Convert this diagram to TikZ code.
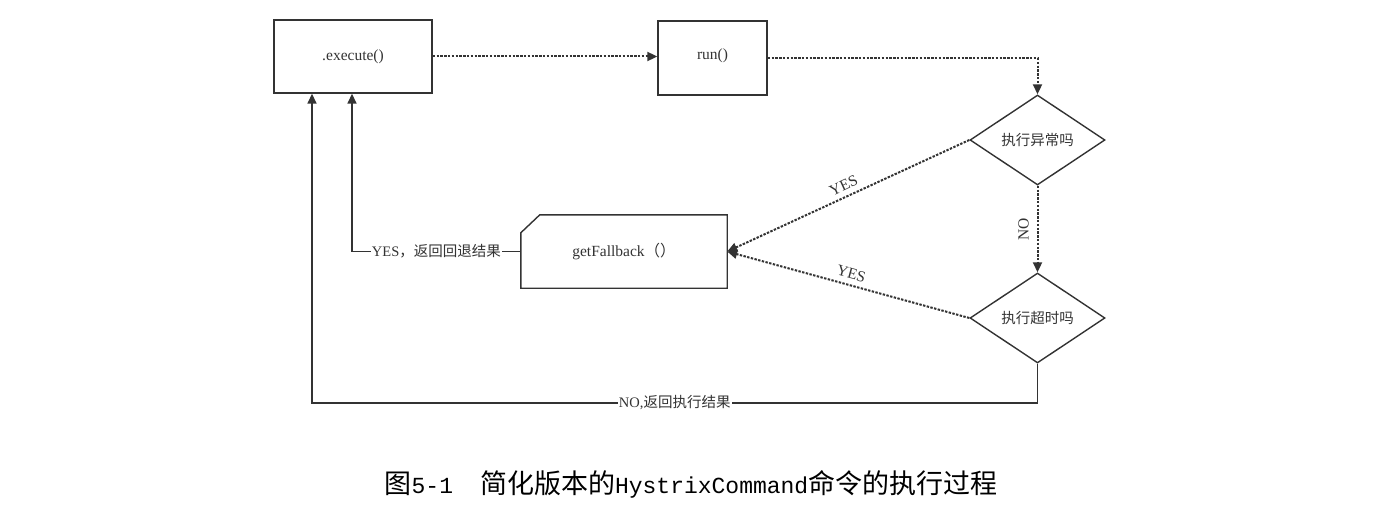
\documentclass[tikz,border=0pt]{standalone}
\usepackage{fontspec}
\setmainfont{Liberation Serif}
\newfontfamily\cjk{Noto Sans CJK SC}
\newfontfamily\monof{Liberation Mono}
\usetikzlibrary{shapes.geometric,arrows.meta}
\definecolor{ink}{HTML}{333333}
\begin{document}
\begin{tikzpicture}[x=1pt,y=-1pt,
  box/.style={draw=ink,line width=1.4pt,rectangle,inner sep=0pt,text=ink,font=\fontsize{15.5}{18}\selectfont},
  dia/.style={draw=ink,line width=1.4pt,diamond,aspect=1.5,inner sep=0pt,minimum width=135pt,minimum height=90pt,text=ink,font=\cjk\fontsize{14.5}{17}\selectfont},
  dotarrow/.style={draw=ink,line width=2pt,dash pattern=on 2.4pt off 1.4pt,-{Triangle[length=10pt,width=9pt]}},
  solidarrow/.style={draw=ink,line width=1.6pt,-{Triangle[length=10pt,width=9pt]}},
  lbl/.style={text=ink,font=\fontsize{15.5}{18}\selectfont,inner sep=5pt},
  clbl/.style={text=ink,fill=white,inner sep=1pt,font=\fontsize{14.5}{17}\selectfont}
]
\useasboundingbox (0,0) rectangle (1380,532);
\node[box,minimum width=158pt,minimum height=73pt] (exec) at (353,56.5) {.execute()};
\node[box,minimum width=109pt,minimum height=74pt] (run) at (712.5,58) {\raisebox{8pt}{run()}};
\node[dia] (d1) at (1037.5,140) {执行异常吗};
\node[dia] (d2) at (1037.5,318) {执行超时吗};
\node[inner sep=0pt,minimum width=206pt,minimum height=73pt,text=ink,font=\fontsize{15.5}{18}\selectfont] (fb) at (624,251.5) {getFallback{\cjk （）}};
\draw[ink,line width=1.4pt] ([yshift=-18pt]fb.north west) -- ([xshift=19pt]fb.north west) -- (fb.north east) -- (fb.south east) -- (fb.south west) -- cycle;
\coordinate (ret1) at ([xshift=-1pt]exec.south);
\coordinate (ret2) at ([xshift=-41pt]exec.south);
\coordinate (bot) at (1037.5,403);
\draw[dotarrow] (exec.east) -- (exec.east -| run.west);
\draw[dotarrow] (run.east) -| (d1.north);
\draw[dotarrow] (d1.south) -- node[lbl,midway,xshift=-14pt,rotate=90,inner sep=1pt]{NO} (d2.north);
\draw[dotarrow] (d1.west) -- node[lbl,midway,sloped,above]{YES} (fb.east);
\draw[dotarrow] (d2.west) -- node[lbl,midway,sloped,above]{YES} (fb.east);
\draw[solidarrow] (fb.west) -- node[clbl,midway]{YES{\cjk ，返回回退结果}} (fb.west -| ret1) -- (ret1);
\draw[solidarrow] (d2.south) -- (bot) -- node[clbl,midway]{NO,{\cjk 返回执行结果}} (bot -| ret2) -- (ret2);
\node[text=black,inner sep=0pt] (cap) at (691,484) {{\cjk\fontsize{27}{30}\selectfont 图}{\monof\fontsize{23}{30}\selectfont 5-1}{\cjk\fontsize{27}{30}\selectfont 　简化版本的}{\monof\fontsize{23}{30}\selectfont HystrixCommand}{\cjk\fontsize{27}{30}\selectfont 命令的执行过程}};
\end{tikzpicture}
\end{document}
